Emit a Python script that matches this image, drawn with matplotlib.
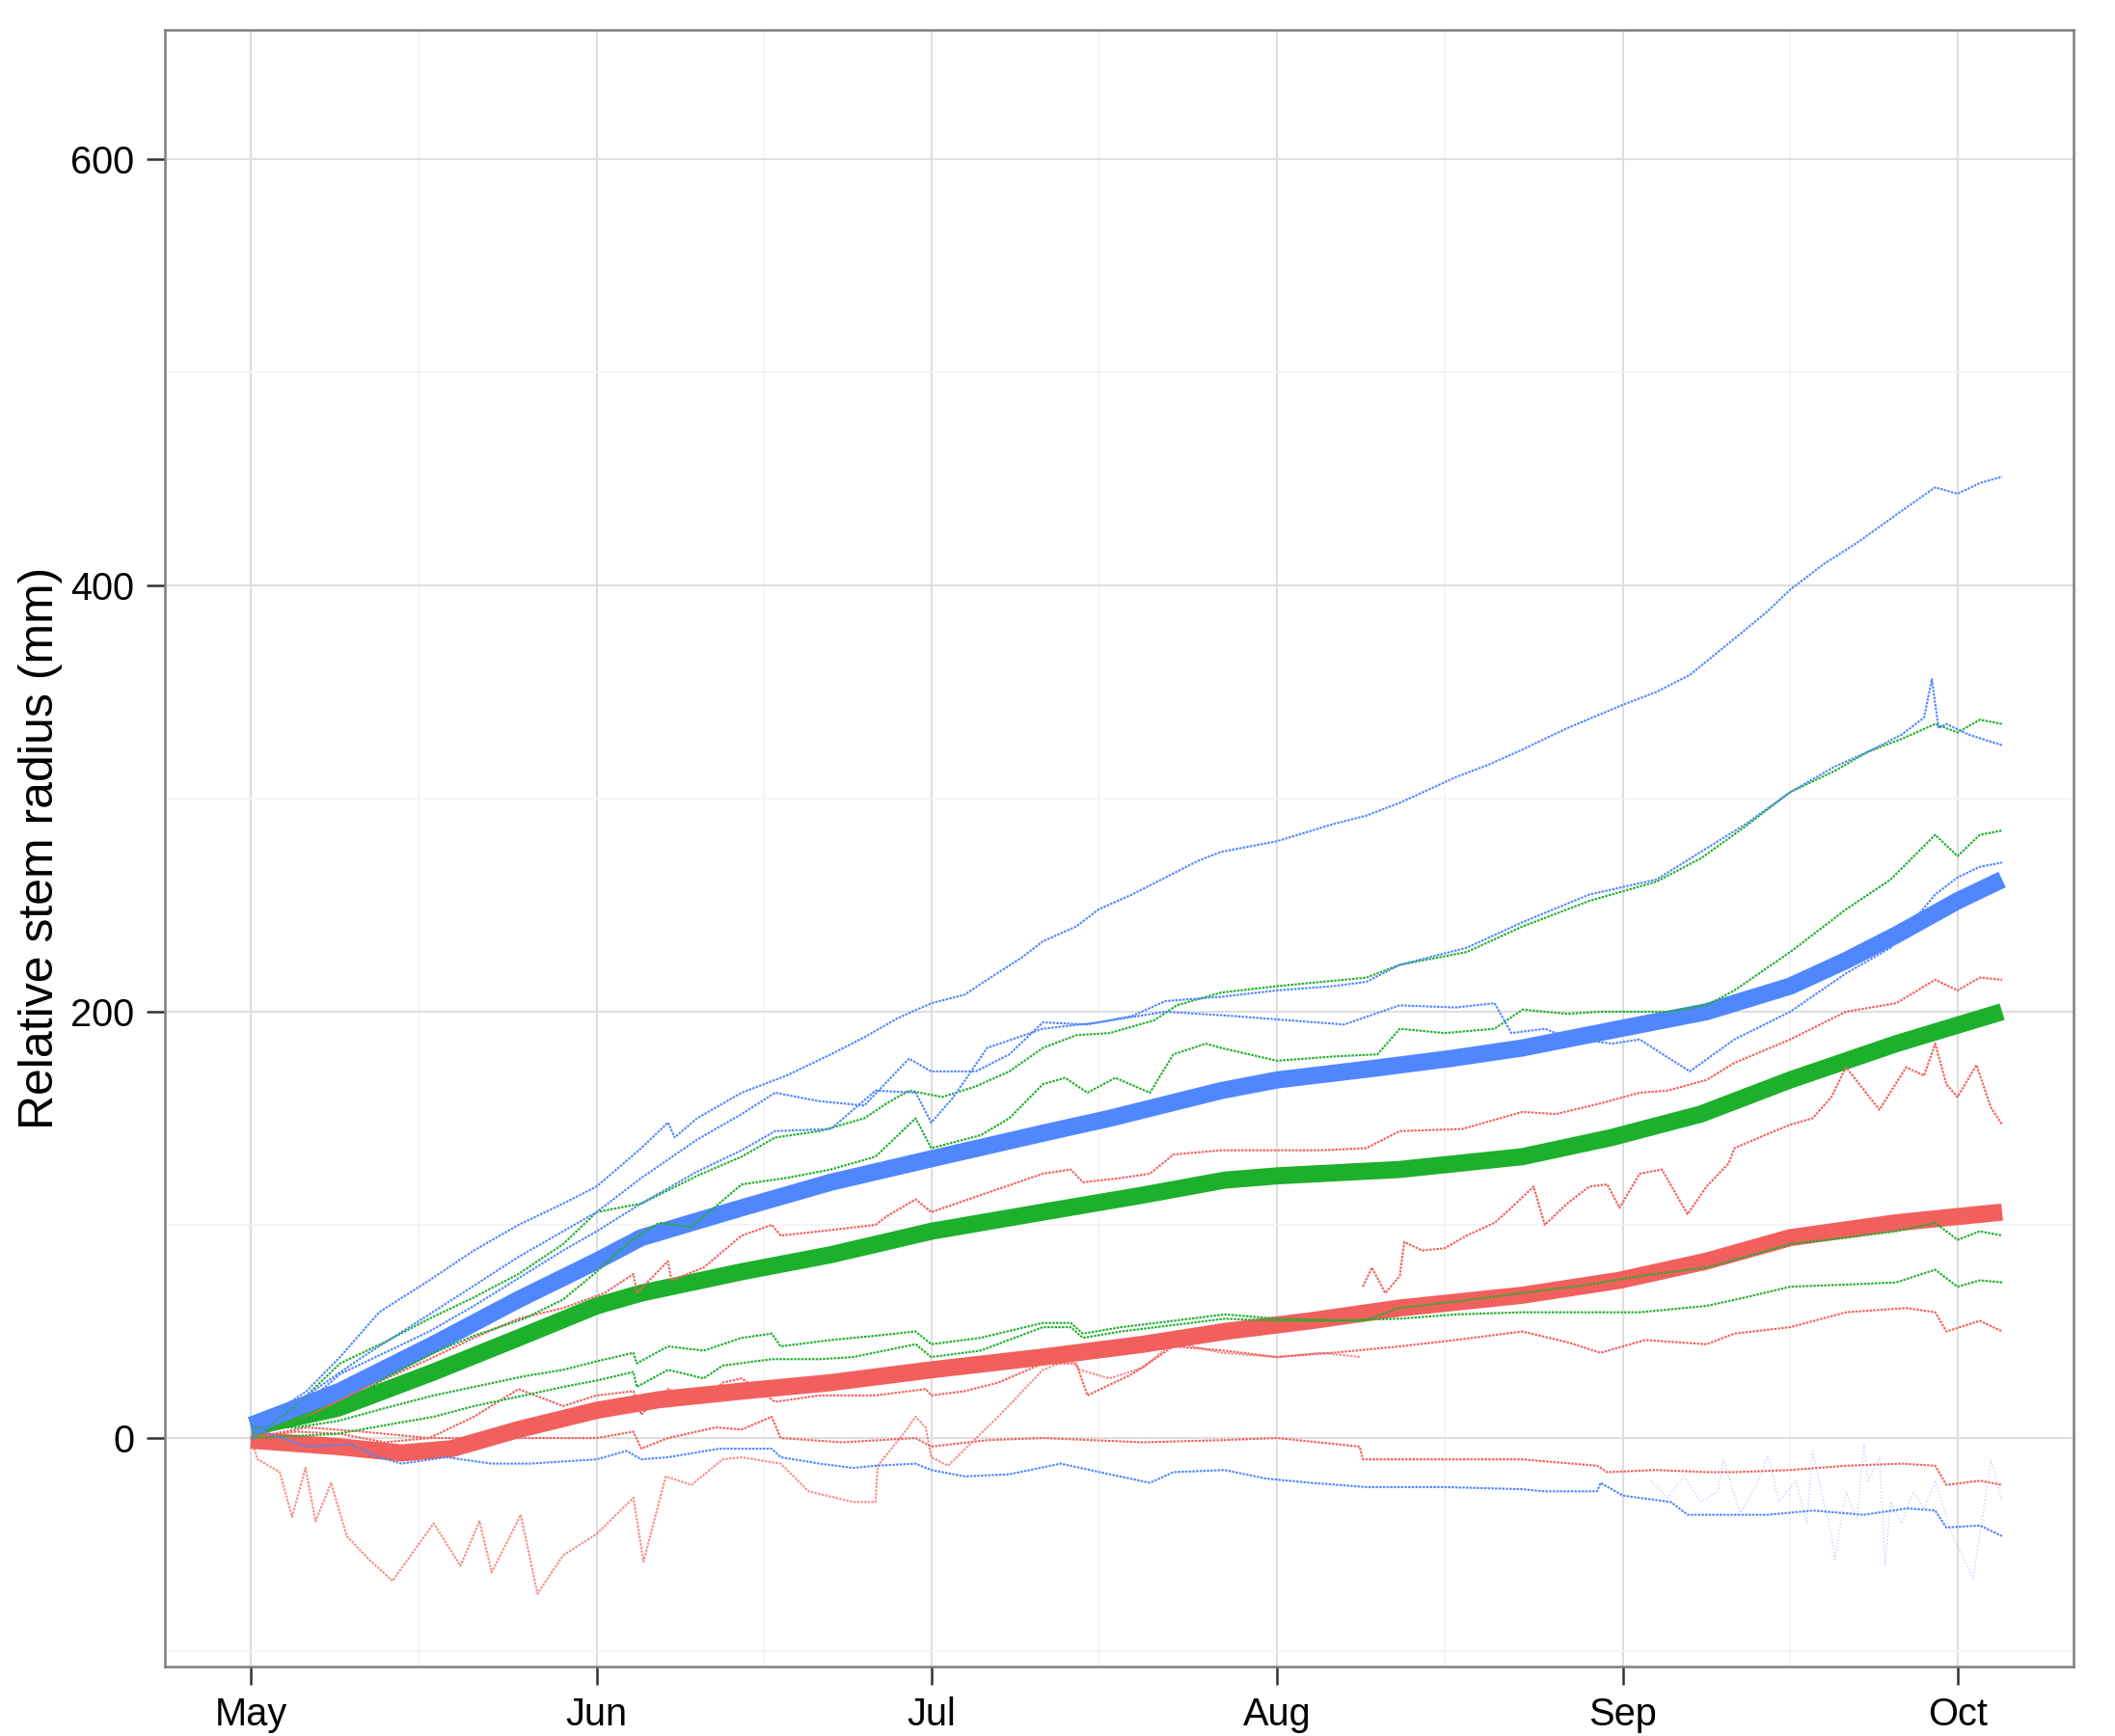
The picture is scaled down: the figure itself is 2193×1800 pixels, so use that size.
import numpy as np
import matplotlib
matplotlib.use("Agg")
import matplotlib.pyplot as plt
import matplotlib.dates as mdates

# ---------------- data (days since 1 May, relative stem radius) ----------------
START_DATE = "2014-05-01"
month_labels = ["May", "Jun", "Jul", "Aug", "Sep", "Oct"]
y_ticks = [0, 200, 400, 600]
y_label = "Relative stem radius (mm)"

# blue trees
b1_days = [0, 3, 5, 8, 11.5, 16, 20, 24, 28, 31, 35, 37.4, 38, 40, 44, 48, 52, 55, 58, 61, 64, 66, 69, 71, 74, 76,
           79, 82, 85, 87, 92, 97, 100, 103, 108, 111, 114, 118, 123, 126, 129, 133, 136, 138, 141, 144, 148, 151,
           153, 155, 157]
b1_vals = [0, 15, 22, 38, 59, 74, 88, 100, 110, 118, 136, 148, 141, 150, 162, 170, 180, 188, 197, 204, 208, 215,
           225, 233, 240, 248, 255, 263, 271, 275, 280, 288, 292, 298, 310, 316, 323, 333, 344, 350, 358, 375, 388,
           398, 410, 420, 435, 446, 443, 448, 451]
b2_days = [0, 5, 10, 16, 24, 31, 35, 40, 44, 47, 51, 55, 59, 61, 65, 68, 71, 75, 79, 82, 87, 92, 97, 100, 103, 109,
           114, 120, 126, 130, 134, 138, 142, 145, 148, 150, 150.7, 151.3, 152, 154, 157]
b2_vals = [0, 20, 38, 58, 85, 106, 122, 140, 152, 162, 158, 156, 178, 172, 172, 180, 195, 194, 198, 205, 207, 210,
           212, 214, 222, 230, 242, 255, 262, 275, 288, 303, 315, 322, 330, 338, 356, 333, 335, 330, 325]
b3_days = [0, 4, 8, 12, 16, 20, 24, 28, 31, 35, 40, 44, 47, 52, 56, 59.6, 61, 63, 66, 71, 76, 82, 88, 93, 98, 103,
           108, 111.5, 113, 116, 118, 122, 124.5, 129, 133, 138, 143, 147, 151, 153, 155, 157]
b3_vals = [0, 12, 30, 40, 50, 62, 75, 88, 97, 110, 125, 135, 144, 145, 163, 162, 148, 160, 183, 192, 195, 200, 198,
           196, 194, 203, 202, 204, 190, 192, 188, 185, 187, 172, 187, 200, 218, 230, 255, 263, 268, 270]
b4_days = [0, 5, 9, 11.5, 13.5, 17.5, 21.6, 25, 31, 33.7, 35, 37.4, 42, 46.7, 47.5, 51, 54, 56, 59.6, 61, 64, 68,
           72.6, 77, 80.6, 82.7, 87.3, 91, 95, 100, 107, 114, 116, 120.7, 121, 123, 127.3, 128.8, 132, 136, 140,
           144.6, 148.5, 151, 152, 155, 157]
b4_vals = [5, -4, -3, -9, -12, -9, -12, -12, -10, -6, -10, -9, -5, -5, -9, -12, -14, -13, -12, -15, -18, -17, -12,
           -17, -21, -16, -15, -19, -21, -23, -23, -24, -25, -25, -21, -27, -30, -36, -36, -36, -34, -36, -33, -34,
           -42, -41, -46]
b5_days = [125.5, 127, 128.5, 130, 131.5, 132, 133.5, 135, 136, 137, 138.5, 139.5, 140, 141, 141.7, 142, 143, 144,
           144.6, 145, 146, 146.5, 147, 148, 149, 150, 151, 152.5, 154.4, 156, 157]
b5_vals = [-20, -28, -18, -30, -25, -10, -35, -22, -8, -30, -20, -40, -6, -30, -45, -57, -25, -38, -3, -20, -9, -60,
           -30, -40, -25, -33, -20, -45, -66, -10, -30]

# green trees
g1_days = [0, 4, 8, 12, 16, 20, 24, 28, 31, 35, 40, 44, 47, 51, 55, 57, 59, 62, 65, 68, 71, 74, 77, 81, 83, 87, 92,
           96, 100, 103, 109, 114, 120, 126, 130, 134, 138, 142, 145, 148, 151, 153, 155, 157]
g1_vals = [0, 15, 35, 45, 56, 66, 77, 91, 106, 110, 123, 132, 141, 144, 150, 157, 163, 160, 165, 172, 183, 189, 190,
           196, 203, 209, 212, 214, 216, 222, 228, 240, 252, 261, 272, 287, 303, 313, 322, 328, 335, 331, 337, 335]
g2_days = [0, 4, 7.8, 12, 16.4, 20, 24.5, 28, 31, 33.7, 36.6, 39.5, 44, 48, 52, 56, 59.6, 61, 65.4, 68, 71, 73, 75,
           77.5, 80.6, 82.7, 85.6, 87, 92, 97, 101, 103, 107, 111.5, 114, 118, 121, 124.5, 127, 130.5, 133, 138, 141,
           143, 147, 151, 153, 155, 157]
g2_vals = [0, 8, 14, 28, 40, 48, 56, 65, 78, 91, 101, 99, 119, 122, 126, 132, 150, 136, 142, 150, 166, 169, 162, 169,
           162, 180, 185, 183, 177, 179, 180, 192, 190, 192, 201, 199, 200, 200, 200, 203, 210, 228, 240, 248, 262,
           283, 273, 283, 285]
g3_days = [0, 4, 7.8, 12, 16.4, 20, 24.5, 28, 31, 34.3, 34.6, 37.4, 40.6, 44, 46.7, 47.5, 52, 56, 59.6, 61, 65.4, 71,
           73.5, 74.6, 78, 82.7, 87.3, 92, 99.7, 103, 108, 114, 120, 124.5, 130.5, 134, 138, 143, 147.5, 151, 153,
           155, 157]
g3_vals = [5, 5, 8, 14, 20, 24, 29, 32, 36, 40, 35, 43, 41, 47, 49, 43, 46, 48, 50, 44, 47, 54, 54, 49, 52, 55, 58,
           56, 55, 61, 64, 68, 72, 76, 80, 85, 91, 94, 97, 101, 93, 97, 95]
g4_days = [0, 4, 7.8, 12, 16.4, 20, 24.5, 28, 31, 34.3, 34.6, 37.4, 40.6, 42.3, 46.7, 51, 54, 59.6, 61, 65.4, 71,
           73.5, 74.6, 78, 82.7, 87.3, 92, 97, 103, 108, 114, 121.6, 124.5, 130.5, 134, 138, 143, 147.5, 151, 153,
           155, 157]
g4_vals = [0, 1, 2, 6, 10, 15, 20, 24, 27, 31, 24, 32, 28, 34, 37, 37, 38, 44, 38, 41, 52, 52, 47, 50, 53, 56, 55,
           55, 56, 58, 59, 59, 59, 62, 66, 71, 72, 73, 79, 71, 74, 73]

# red trees
r1_days = [0, 5, 10, 16, 20, 24, 28, 31.7, 34.3, 34.6, 37.4, 37.7, 40.6, 44, 46.7, 47.5, 51, 56, 57, 59.6, 61, 66,
           71, 73.5, 74.6, 78, 80.6, 82.7, 87, 92, 96, 100, 103, 108.6, 114, 117, 121, 124.5, 127, 130.5, 133, 138,
           143, 147.5, 151, 153, 155, 157]
r1_vals = [0, 10, 23, 37, 47, 56, 61, 68, 77, 68, 83, 74, 80, 95, 100, 95, 97, 100, 104, 112, 106, 115, 124, 126,
           120, 122, 124, 133, 135, 135, 135, 136, 144, 145, 153, 152, 157, 162, 163, 168, 176, 187, 200, 204, 215,
           210, 216, 215]
r2_days = [99.7, 100.5, 101.7, 103, 103.4, 105, 107, 109, 111.5, 113, 115, 116, 118, 120, 121.6, 122.7, 124.5,
           126.5, 128.8, 130.5, 132.5, 133, 136.6, 138, 140, 141.7, 143, 146, 148.4, 150, 151, 152, 153, 154.7,
           156, 157]
r2_vals = [71, 80, 68, 76, 92, 88, 89, 95, 101, 108, 118, 100, 110, 118, 119, 108, 124, 126, 105, 118, 129, 136, 144,
           147, 150, 160, 174, 154, 174, 170, 185, 166, 160, 175, 155, 147]
r3_days = [0, 4, 8, 12, 16, 20, 24, 28, 31, 34.3, 35, 37.4, 40.6, 42.3, 44, 47, 51, 56, 60.5, 61, 64, 67, 71, 74,
           75, 79, 82.7, 87.3, 92, 97, 103, 108, 114, 118, 121, 125, 130.5, 133, 138, 143, 148.4, 151, 152, 155,
           157]
r3_vals = [0, 3, 2, -2, 0, 10, 23, 15, 20, 22, 11, 23, 17, 26, 28, 17, 20, 20, 23, 20, 22, 26, 35, 35, 20, 30, 43,
           41, 38, 40, 43, 46, 50, 45, 40, 46, 44, 49, 52, 59, 61, 59, 50, 55, 50]
r4_days = [0, 5, 10, 16, 24, 31, 34.3, 35, 37.4, 41.7, 44, 46.7, 47.5, 53, 59.6, 61, 66, 71, 80, 87, 92, 99.4, 99.7,
           107, 114, 120.7, 121.6, 126, 130.5, 133, 138, 143, 148, 151, 152, 155, 157]
r4_vals = [0, 5, 3, 0, 0, 0, 3, -5, 0, 5, 4, 10, 0, -2, 0, -4, -1, 0, -2, -1, 0, -4, -10, -10, -10, -13, -16, -15,
           -16, -16, -15, -13, -12, -13, -22, -20, -22]
r5_days = [0, 0.6, 2.6, 3.7, 4.9, 5.8, 7.2, 8.6, 10.6, 12.7, 16.4, 18.8, 20.5, 21.6, 24.2, 25.7, 28, 31, 34.3, 35.2,
           37.2, 39.5, 42.3, 44, 47.5, 50, 54, 56, 56.2, 58.5, 59.6, 60.5, 61, 62.5, 66, 67, 71, 73.5, 74.3, 77, 80,
           82.7, 87, 92, 96, 99.5]
r5_vals = [0, -10, -16, -37, -14, -39, -21, -46, -57, -67, -40, -60, -39, -63, -36, -73, -55, -45, -28, -58, -18,
           -22, -10, -9, -12, -25, -30, -30, -13, 2, 10, 5, -9, -13, 5, 10, 32, 37, 32, 28, 33, 45, 40, 38, 40, 38]

# smoothed group means
red_mean_days = [0, 7.8, 13.5, 18, 24, 31, 36.6, 44, 52, 61, 71, 80, 87.3, 95, 103, 114, 122.7, 130.5, 138, 147.5, 157]
red_mean_vals = [-1, -4, -7, -5, 4, 13, 18, 22, 26, 32, 38, 44, 50, 55, 61, 67, 74, 83, 94, 101, 106]
green_mean_days = [0, 7.8, 16.4, 24, 31, 35, 44, 52, 61, 71, 80, 87.3, 92, 103, 114, 122, 130, 138, 147.5, 157]
green_mean_vals = [5, 14, 31, 47, 62, 68, 78, 86, 97, 106, 114, 121, 123, 126, 132, 141, 152, 168, 185, 200]
blue_mean_days = [0, 8, 16.4, 24, 31, 35, 44, 52, 61, 71, 77, 87, 92, 100, 107.5, 114, 122.7, 130.5, 138, 143,
                  147.5, 153, 157]
blue_mean_vals = [6, 22, 44, 65, 83, 94, 108, 120, 131, 143, 150, 163, 168, 173, 178, 183, 192, 200, 212, 224, 236,
                  252, 262]

# ---------------- styling ----------------
RED, GREEN, BLUE = "#F2605E", "#1DB02C", "#5087FF"

plt.rcParams["font.family"] = ["Liberation Sans", "DejaVu Sans"]

base = np.datetime64(START_DATE + "T00:00")


def to_dates(days):
    return base + np.round(np.asarray(days, float) * 1440).astype("timedelta64[m]")


W, H, DPI = 2193, 1800, 200
fig = plt.figure(figsize=(W / DPI, H / DPI), dpi=DPI)
L, R, T, B = 171, 2150, 31, 1728
ax = fig.add_axes([L / W, 1 - B / H, (R - L) / W, (B - T) / H])

# thick smoothed lines (drawn beneath the thin tree lines)
for d, v, c in [(red_mean_days, red_mean_vals, RED), (green_mean_days, green_mean_vals, GREEN),
                (blue_mean_days, blue_mean_vals, BLUE)]:
    ax.plot(to_dates(d), v, color=c, lw=6.4, solid_capstyle="butt", solid_joinstyle="round", zorder=3)

thin = dict(lw=0.75, ls=(0, (1.2, 0.6)), zorder=4)
for i, (d, v) in enumerate([(r1_days, r1_vals), (r2_days, r2_vals), (r3_days, r3_vals), (r4_days, r4_vals),
                            (r5_days, r5_vals)]):
    ax.plot(to_dates(d), v, color=RED, alpha=0.7 if i == 4 else 1.0, **thin)
for d, v in [(g1_days, g1_vals), (g2_days, g2_vals), (g3_days, g3_vals), (g4_days, g4_vals)]:
    ax.plot(to_dates(d), v, color=GREEN, **thin)
for d, v in [(b1_days, b1_vals), (b2_days, b2_vals), (b3_days, b3_vals), (b4_days, b4_vals)]:
    ax.plot(to_dates(d), v, color=BLUE, **thin)
ax.plot(to_dates(b5_days), b5_vals, color=BLUE, lw=0.5, ls=(0, (1, 1.5)), alpha=0.35, zorder=4)

# axes limits / ticks
ax.set_xlim(to_dates([-7.7])[0], to_dates([163.4])[0])
ax.set_ylim(-107.2, 660.6)
ax.xaxis.set_major_locator(mdates.MonthLocator())
ax.xaxis.set_minor_locator(mdates.DayLocator(bymonthday=16))
ax.xaxis.set_major_formatter(mdates.DateFormatter("%b"))
ax.set_yticks(y_ticks)
ax.set_yticks([-100, 100, 300, 500], minor=True)
ticks_now = ax.get_xticks()
ax.set_xticks(ticks_now[: len(month_labels)])
ax.set_xticklabels(month_labels)

ax.grid(which="major", color="#DEDEDE", lw=0.75, zorder=0)
ax.grid(which="minor", color="#F3F3F3", lw=0.6, zorder=0)
ax.set_axisbelow(True)
for s in ax.spines.values():
    s.set_color("#7F7F7F")
    s.set_linewidth(0.9)
ax.tick_params(which="major", length=6.8, width=0.9, color="#333333", labelsize=14.3, pad=4.5,
               labelcolor="black")
ax.tick_params(which="minor", length=0)
ax.set_ylabel(y_label, fontsize=18, labelpad=3)

fig.savefig("out.png", dpi=DPI)
